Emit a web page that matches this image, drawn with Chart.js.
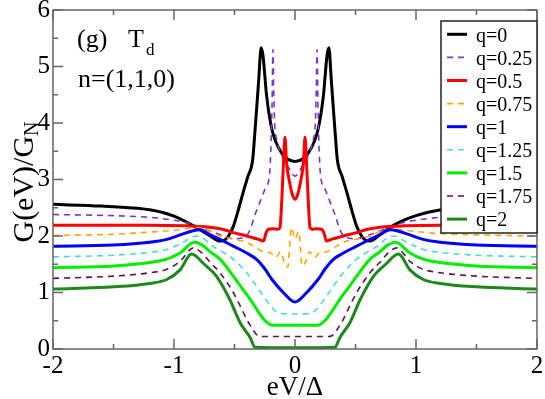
<!DOCTYPE html>
<html>
<head>
<meta charset="utf-8">
<script src="https://cdn.jsdelivr.net/npm/chart.js@4.4.1/dist/chart.umd.min.js"></script>
<style>
  html, body { margin: 0; padding: 0; background: #fff; }
  canvas { display: block; }
</style>
</head>
<body>
<canvas id="chart" width="545" height="399"></canvas>
<script>
// series: G(eV)/G_N against eV/Delta, one pair of arrays per q
const labels = ["q=0", "q=0.25", "q=0.5", "q=0.75", "q=1", "q=1.25", "q=1.5", "q=1.75", "q=2"];

const xQ0 = [-2, -1.6, -1.3, -1.1, -1, -0.9, -0.8, -0.7, -0.62, -0.58, -0.55, -0.51, -0.47, -0.43, -0.39, -0.35, -0.33, -0.3, -0.28, -0.265, -0.234, -0.19, -0.11, 0,
  0.11, 0.19, 0.234, 0.265, 0.28, 0.3, 0.33, 0.35, 0.39, 0.43, 0.47, 0.51, 0.55, 0.58, 0.62, 0.7, 0.8, 0.9, 1, 1.1, 1.3, 1.6, 2];
const yQ0 = [2.56, 2.53, 2.49, 2.42, 2.35, 2.25, 2.13, 2.0, 1.91, 1.93, 2.0, 2.17, 2.45, 2.76, 3.05, 3.35, 3.88, 4.76, 5.33, 5.2, 4.47, 3.88, 3.47, 3.32,
  3.47, 3.88, 4.47, 5.2, 5.33, 4.76, 3.88, 3.35, 3.05, 2.76, 2.45, 2.17, 2.0, 1.93, 1.91, 2.02, 2.17, 2.28, 2.36, 2.42, 2.49, 2.53, 2.56];

const xQ025 = [-2, -1.5, -1.2, -1, -0.9, -0.8, -0.7, -0.6, -0.5, -0.45, -0.4, -0.37, -0.33, -0.29, -0.25, -0.21, -0.2, -0.19, -0.182, -0.176, -0.168, -0.15, -0.12, -0.07, 0,
  0.07, 0.12, 0.15, 0.168, 0.176, 0.182, 0.19, 0.2, 0.21, 0.25, 0.29, 0.33, 0.37, 0.4, 0.45, 0.5, 0.6, 0.7, 0.8, 0.9, 1, 1.2, 1.5, 2];
const yQ025 = [2.38, 2.36, 2.33, 2.28, 2.24, 2.17, 2.09, 2.01, 1.95, 1.96, 2.0, 2.12, 2.38, 2.6, 2.82, 3.1, 3.5, 4.3, 5.3, 4.6, 4.0, 3.7, 3.48, 3.28, 3.06,
  3.28, 3.48, 3.7, 4.0, 4.6, 5.3, 4.3, 3.5, 3.1, 2.82, 2.6, 2.38, 2.12, 2.0, 1.96, 1.95, 2.01, 2.09, 2.17, 2.24, 2.28, 2.33, 2.36, 2.38];

const xQ05 = [-2, -1.2, -0.9, -0.785, -0.6, -0.51, -0.4, -0.3, -0.26, -0.24, -0.22, -0.18, -0.14, -0.124, -0.11, -0.095, -0.083, -0.07, -0.045, -0.02, 0,
  0.02, 0.045, 0.07, 0.083, 0.095, 0.11, 0.124, 0.14, 0.18, 0.22, 0.24, 0.26, 0.3, 0.4, 0.51, 0.6, 0.785, 0.9, 1.2, 2];
const yQ05 = [2.19, 2.19, 2.18, 2.17, 2.12, 2.06, 2.0, 1.94, 1.91, 2.05, 2.12, 2.13, 2.12, 2.15, 2.6, 3.3, 3.75, 3.3, 2.95, 2.72, 2.65,
  2.72, 2.95, 3.3, 3.75, 3.3, 2.6, 2.15, 2.12, 2.13, 2.12, 2.05, 1.91, 1.94, 2.0, 2.06, 2.12, 2.17, 2.18, 2.19, 2.19];

const xQ075 = [-2, -1.5, -1.2, -1, -0.92, -0.785, -0.7, -0.62, -0.5, -0.43, -0.35, -0.26, -0.2, -0.16, -0.12, -0.09, -0.06, -0.03, 0,
  0.03, 0.06, 0.09, 0.12, 0.16, 0.2, 0.26, 0.35, 0.43, 0.5, 0.62, 0.7, 0.8, 1, 1.2, 1.5, 2];
const yQ075 = [2.01, 2.03, 2.07, 2.1, 2.12, 2.15, 2.08, 2.0, 1.94, 1.91, 1.83, 1.72, 1.7, 1.62, 1.72, 1.55, 1.45, 2.15, 1.95,
  2.08, 1.47, 1.55, 1.72, 1.62, 1.7, 1.72, 1.83, 1.91, 1.94, 2.0, 2.08, 2.12, 2.08, 2.04, 2.02, 2.0];

const xQ1 = [-2, -1.5, -1.2, -1.06, -0.95, -0.85, -0.785, -0.7, -0.6, -0.51, -0.4, -0.32, -0.25, -0.19, -0.097, 0,
  0.097, 0.19, 0.25, 0.32, 0.4, 0.51, 0.6, 0.7, 0.785, 0.85, 0.95, 1.06, 1.2, 1.5, 2];
const yQ1 = [1.82, 1.84, 1.89, 1.94, 2.02, 2.09, 2.11, 2.02, 1.92, 1.82, 1.7, 1.59, 1.42, 1.23, 1.0, 0.83,
  1.0, 1.23, 1.42, 1.59, 1.7, 1.82, 1.92, 2.02, 2.11, 2.09, 2.02, 1.94, 1.89, 1.84, 1.82];

const xQ125 = [-2, -1.5, -1.2, -1.06, -0.95, -0.81, -0.75, -0.7, -0.6, -0.51, -0.4, -0.32, -0.25, -0.18, -0.13, 0,
  0.13, 0.18, 0.25, 0.32, 0.4, 0.51, 0.6, 0.7, 0.75, 0.81, 0.95, 1.06, 1.2, 1.5, 2];
const yQ125 = [1.63, 1.66, 1.71, 1.76, 1.86, 2.0, 1.95, 1.85, 1.72, 1.59, 1.35, 1.12, 0.9, 0.71, 0.63, 0.62,
  0.63, 0.71, 0.9, 1.12, 1.35, 1.59, 1.72, 1.85, 1.95, 2.0, 1.86, 1.76, 1.71, 1.66, 1.63];

const xQ15 = [-2, -1.5, -1.2, -1.06, -0.95, -0.83, -0.76, -0.7, -0.62, -0.51, -0.44, -0.37, -0.3, -0.26, -0.22, -0.19, 0,
  0.19, 0.22, 0.26, 0.3, 0.37, 0.44, 0.51, 0.62, 0.7, 0.76, 0.83, 0.95, 1.06, 1.2, 1.5, 2];
const yQ15 = [1.44, 1.47, 1.53, 1.59, 1.7, 1.89, 1.83, 1.72, 1.59, 1.29, 1.08, 0.88, 0.65, 0.53, 0.45, 0.42, 0.42,
  0.42, 0.45, 0.53, 0.65, 0.88, 1.08, 1.29, 1.59, 1.72, 1.83, 1.89, 1.7, 1.59, 1.53, 1.47, 1.44];

const xQ175 = [-2, -1.5, -1.2, -1.06, -0.95, -0.84, -0.77, -0.7, -0.62, -0.51, -0.45, -0.4, -0.35, -0.32, -0.28, 0,
  0.28, 0.32, 0.35, 0.4, 0.45, 0.51, 0.62, 0.7, 0.77, 0.84, 0.95, 1.06, 1.2, 1.5, 2];
const yQ175 = [1.25, 1.29, 1.35, 1.41, 1.55, 1.79, 1.7, 1.53, 1.35, 1.0, 0.75, 0.53, 0.35, 0.26, 0.22, 0.22,
  0.22, 0.26, 0.35, 0.53, 0.75, 1.0, 1.35, 1.53, 1.7, 1.79, 1.55, 1.41, 1.35, 1.29, 1.25];

const xQ2 = [-2, -1.5, -1.2, -1.06, -0.95, -0.855, -0.75, -0.65, -0.54, -0.455, -0.37, -0.33, 0,
  0.33, 0.37, 0.455, 0.54, 0.65, 0.75, 0.855, 0.95, 1.06, 1.2, 1.5, 2];
const yQ2 = [1.06, 1.1, 1.16, 1.23, 1.4, 1.68, 1.5, 1.29, 0.88, 0.47, 0.2, 0.03, 0.02,
  0.03, 0.2, 0.47, 0.88, 1.29, 1.5, 1.68, 1.4, 1.23, 1.16, 1.1, 1.06];

const xTicks = [-2, -1, 0, 1, 2];
const yTicks = [0, 1, 2, 3, 4, 5, 6];

const xs = [xQ0, xQ025, xQ05, xQ075, xQ1, xQ125, xQ15, xQ175, xQ2];
const ys = [yQ0, yQ025, yQ05, yQ075, yQ1, yQ125, yQ15, yQ175, yQ2];
const colors = ["#000000", "#7a35d2", "#ff0000", "#ffa500", "#0000ff", "#40e0d0", "#00f000", "#64104e", "#1b8a1b"];
const dashed = [false, true, false, true, false, true, false, true, false];

const serif = "'Liberation Serif', 'Times New Roman', serif";

const datasets = labels.map((lab, i) => ({
  label: lab,
  data: xs[i].map((x, k) => ({ x: x, y: ys[i][k] })),
  borderColor: colors[i],
  borderWidth: dashed[i] ? 1.6 : 3,
  borderDash: dashed[i] ? [6, 5] : [],
  cubicInterpolationMode: "monotone",
  pointRadius: 0,
  fill: false,
  order: labels.length - i
}));

// frame, inward ticks, text and the boxed legend
const decor = {
  id: "decor",
  afterDraw(chart) {
    const { ctx, chartArea: a, scales } = chart;
    const sx = scales.x, sy = scales.y;
    ctx.save();
    ctx.strokeStyle = "#666";
    ctx.lineWidth = 1.5;
    ctx.strokeRect(a.left, a.top, a.right - a.left, a.bottom - a.top);

    ctx.beginPath();
    for (let v = sx.min; v <= sx.max + 1e-9; v += 0.5) {
      const p = sx.getPixelForValue(v);
      const len = xTicks.includes(v) ? 10 : 5;
      ctx.moveTo(p, a.bottom); ctx.lineTo(p, a.bottom - len);
      ctx.moveTo(p, a.top); ctx.lineTo(p, a.top + len);
    }
    for (let v = sy.min; v <= sy.max + 1e-9; v += 0.5) {
      const p = sy.getPixelForValue(v);
      const len = yTicks.includes(v) ? 10 : 5;
      ctx.moveTo(a.left, p); ctx.lineTo(a.left + len, p);
      ctx.moveTo(a.right, p); ctx.lineTo(a.right - len, p);
    }
    ctx.stroke();

    // annotations
    ctx.fillStyle = "#000";
    ctx.textBaseline = "alphabetic";
    ctx.textAlign = "left";
    ctx.font = "26px " + serif;
    ctx.fillText("(g)", 77, 47);
    ctx.fillText("T", 128, 47);
    ctx.fillText("n=(1,1,0)", 78, 87);
    ctx.font = "17px " + serif;
    ctx.fillText("d", 146, 55);

    // y title with subscript
    ctx.save();
    ctx.translate(33, 182);
    ctx.rotate(-Math.PI / 2);
    ctx.font = "30px " + serif;
    const main = "G(eV)/G";
    const w = ctx.measureText(main).width;
    ctx.font = "20px " + serif;
    const wn = ctx.measureText("N").width;
    const start = -(w + wn) / 2;
    ctx.font = "30px " + serif;
    ctx.fillText(main, start, 0);
    ctx.font = "20px " + serif;
    ctx.fillText("N", start + w, 5);
    ctx.restore();

    // legend
    const lx = 441, ly = 21, lw = 96, lh = 212;
    ctx.fillStyle = "#fff";
    ctx.fillRect(lx, ly, lw, lh);
    ctx.strokeStyle = "#222";
    ctx.lineWidth = 1.5;
    ctx.strokeRect(lx, ly, lw, lh);
    ctx.font = "20px " + serif;
    ctx.textBaseline = "middle";
    chart.data.datasets.forEach((ds, i) => {
      const cy = 34.3 + i * 23.1;
      ctx.beginPath();
      ctx.strokeStyle = ds.borderColor;
      ctx.lineWidth = ds.borderWidth;
      ctx.setLineDash(ds.borderDash);
      ctx.moveTo(447, cy);
      ctx.lineTo(467, cy);
      ctx.stroke();
      ctx.setLineDash([]);
      ctx.fillStyle = "#000";
      ctx.fillText(ds.label, 476, cy + 2);
    });
    ctx.restore();
  }
};

new Chart(document.getElementById("chart"), {
  type: "line",
  data: { datasets: datasets },
  options: {
    responsive: false,
    animation: false,
    layout: { padding: { left: 0, right: 8, top: 10, bottom: 0 } },
    plugins: { legend: { display: false }, tooltip: { enabled: false } },
    scales: {
      x: {
        type: "linear",
        min: -2,
        max: 2,
        afterBuildTicks: (s) => { s.ticks = xTicks.map(v => ({ value: v })); },
        ticks: { color: "#000", font: { family: serif, size: 25 }, padding: 2, maxRotation: 0, autoSkip: false },
        grid: { display: false, drawTicks: false },
        border: { display: false },
        title: { display: true, text: "eV/Δ", color: "#000", font: { family: serif, size: 27, lineHeight: 0.8 }, padding: 0 },
        afterFit: (s) => { s.height = 50; s.paddingLeft = 0; s.paddingRight = 0; }
      },
      y: {
        type: "linear",
        min: 0,
        max: 6,
        afterBuildTicks: (s) => { s.ticks = yTicks.map(v => ({ value: v })); },
        ticks: { color: "#000", font: { family: serif, size: 25 }, padding: 3, autoSkip: false },
        grid: { display: false, drawTicks: false },
        border: { display: false },
        afterFit: (s) => { s.width = 53; s.paddingTop = 0; s.paddingBottom = 0; }
      }
    }
  },
  plugins: [decor]
});
</script>
</body>
</html>
